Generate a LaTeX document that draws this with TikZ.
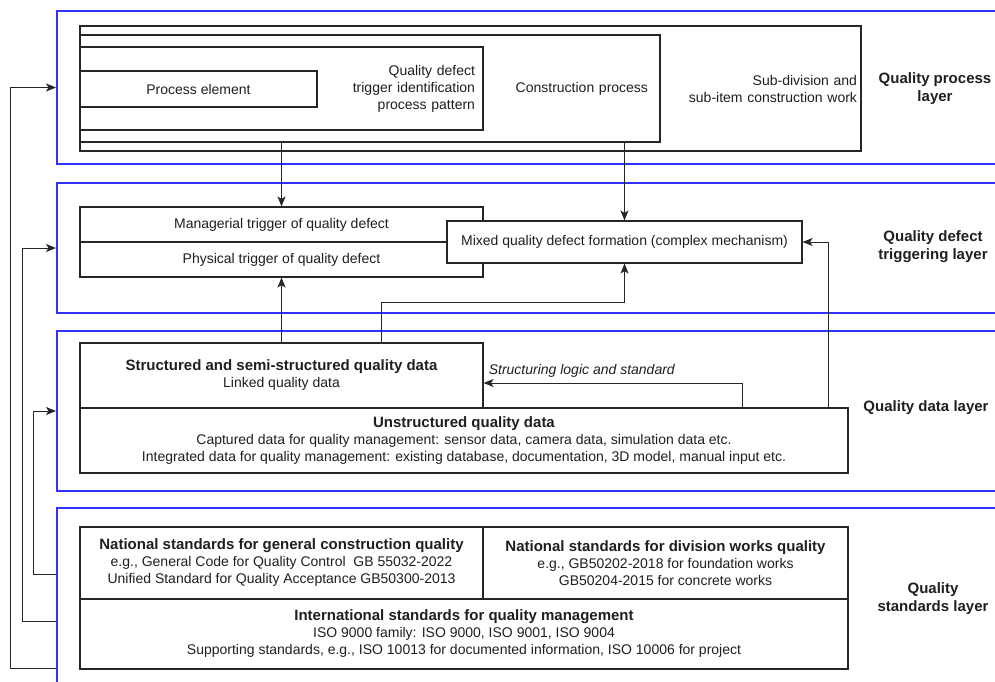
\documentclass[tikz,border=0pt]{standalone}
\usepackage{fontspec}
\setmainfont{Liberation Sans}
\usetikzlibrary{arrows.meta}
\definecolor{layerblue}{HTML}{3333FF}
\definecolor{linegray}{HTML}{262626}
\tikzstyle{layer} = [
    rectangle,
    draw=layerblue,
    line width=2pt,
    inner sep=0pt,
]
\tikzstyle{rect} = [
    rectangle,
    align=center,
    inner sep=0pt,
    fill=white,
    draw=linegray,
    line width=1.1pt,
]
\tikzstyle{rrect} = [rect, align=right]
\tikzstyle{layername} = [align=center, font=\fontsize{15}{18}\selectfont\bfseries]
\tikzstyle{arrow} = [line width=1pt,draw=linegray,-{Stealth[length=10pt,width=8pt,inset=2.5pt]}]
\newcommand{\hd}[1]{{\fontsize{15}{17}\selectfont\bfseries #1}}

\begin{document}
\begin{tikzpicture}[x=1pt, y=-1pt,
every node/.style={font=\fontsize{14}{17}\selectfont, text=black!88}]
    \useasboundingbox (0,0) rectangle (995,682);
    \clip (0,0) rectangle (995,682);

    % layers
    \node (lp) [layer, minimum width=958pt, minimum height=153pt] at (536,87.5) {};
    \node (lt) [layer, minimum width=958pt, minimum height=130pt] at (536,248) {};
    \node (ld) [layer, minimum width=958pt, minimum height=160pt] at (536,411) {};
    \node (ls) [layer, minimum width=958pt, minimum height=212pt] at (536,614) {};

    \node (lpn) [layername] at (935,89) {Quality process\\ layer};
    \node (ltn) [layername] at (933,247) {Quality defect\\ triggering layer};
    \node (ldn) [layername] at (926,408) {Quality data layer};
    \node (lsn) [layername] at (933,599) {Quality\\ standards layer};

    % quality process layer
    \node (sw) [rrect, inner xsep=4pt, text width=773pt, minimum height=125pt] at (470.5,88.5) {
        Sub-division and\\ sub-item construction work};
    \node (cp) [rrect, inner xsep=12pt, text width=556pt, minimum height=107pt] at (370,88.5) {
        Construction process};
    \node (qt) [rrect, inner xsep=8pt, text width=387pt, minimum height=83pt] at (281.5,88.5) {
        Quality defect\\ trigger identification\\ process pattern};
    \node (pe) [rect, minimum width=237pt, minimum height=36pt] at (198.5,89) {Process element};

    % quality defect triggering layer
    \node (mg) [rect, minimum width=403pt, minimum height=35pt] at (281.5,224.5) {
        Managerial trigger of quality defect};
    \node (ph) [rect, minimum width=403pt, minimum height=35pt] at (281.5,259.5) {
        Physical trigger of quality defect};
    \node (mx) [rect, minimum width=355pt, minimum height=42pt] at (624.5,242) {
        Mixed quality defect formation (complex mechanism)};

    % quality data layer
    \node (sd) [rect, minimum width=403pt, minimum height=65pt] at (281.5,375.5) {
        \hd{Structured and semi-structured quality data}\\ Linked quality data};
    \node (ud) [rect, minimum width=768pt, minimum height=65pt] at (464,440.5) {
        \hd{Unstructured quality data}\\
        Captured data for quality management: sensor data, camera data, simulation data etc.\\
        Integrated data for quality management: existing database, documentation, 3D model, manual input etc.};

    % quality standards layer
    \node (gs) [rect, minimum width=403pt, minimum height=72pt] at (281.5,563) {
        \hd{National standards for general construction quality}\\
        e.g., General Code for Quality Control\ \ GB 55032-2022\\
        Unified Standard for Quality Acceptance GB50300-2013};
    \node (ds) [rect, minimum width=365pt, minimum height=72pt] at (665.5,563) {
        \hd{National standards for division works quality}\\
        e.g., GB50202-2018 for foundation works\\
        GB50204-2015 for concrete works};
    \node (is) [rect, minimum width=768pt, minimum height=70pt] at (464,634) {
        \hd{International standards for quality management}\\
        ISO 9000 family: ISO 9000, ISO 9001, ISO 9004\\
        Supporting standards, e.g., ISO 10013 for documented information, ISO 10006 for project};

    % bends
    \coordinate (bm) at (381,302);
    \coordinate (ux) at (828,0);
    \coordinate (sx) at (742,383);
    \coordinate (fa) at (10,668);
    \coordinate (fm) at (22,621);
    \coordinate (fi) at (33,574);

    \draw [arrow] (mg.north |- cp.south) -- (mg.north);
    \draw [arrow] (mx.north |- cp.south) -- (mx.north);
    \draw [arrow] (sd.north) -- (ph.south);
    \draw [arrow] (sd.north -| bm) -- (bm) -| (mx.south);
    \draw [arrow] (ud.north -| ux) |- (mx.east);
    \draw [arrow] (ud.north -| sx) -- (sx) -- (sx -| sd.east)
        node (sl) [pos=0.62, above=2pt, font=\fontsize{14}{17}\selectfont\itshape] {Structuring logic and standard};

    % feedback from standards
    \draw [arrow] (fa -| ls.west) -- (fa) |- (lp.west);
    \draw [arrow] (fm -| ls.west) -- (fm) |- (lt.west);
    \draw [arrow] (fi -| ls.west) -- (fi) |- (ld.west);
\end{tikzpicture}
\end{document}
